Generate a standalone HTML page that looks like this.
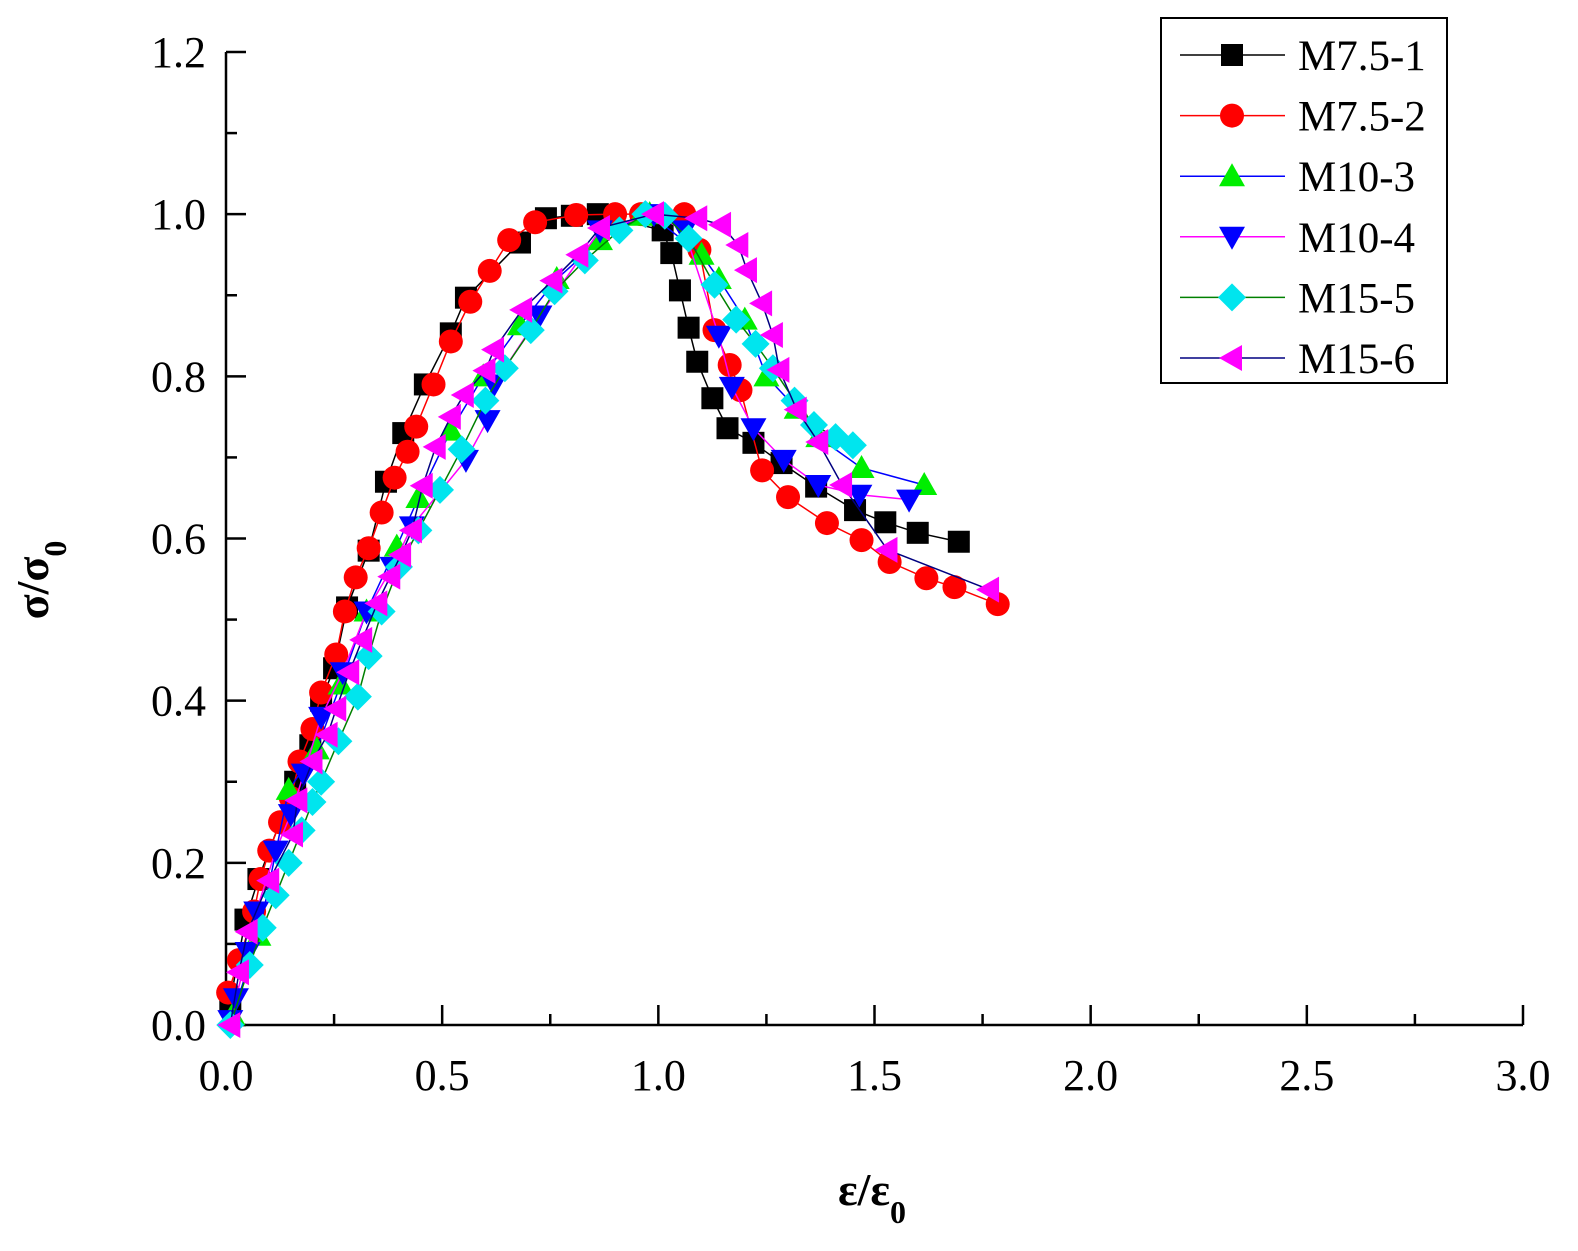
<!DOCTYPE html>
<html><head><meta charset="utf-8"><style>
body{margin:0;background:#fff}
svg{display:block;font-family:"Liberation Serif",serif}
</style></head><body>
<svg id="chart" width="1578" height="1251" viewBox="0 0 1578 1251">
<g id="axes"></g>
<g id="series"></g>
<g id="legend"></g>
</svg>
<script>
const xTicks=["0.0","0.5","1.0","1.5","2.0","2.5","3.0"];
const yTicks=["0.0","0.2","0.4","0.6","0.8","1.0","1.2"];
const seriesNames=["M7.5-1","M7.5-2","M10-3","M10-4","M15-5","M15-6"];
const s1x=[0.01,0.045,0.075,0.16,0.195,0.22,0.25,0.28,0.33,0.37,0.41,0.46,0.52,0.555,0.68,0.74,0.8,0.86,1.01,1.03,1.05,1.07,1.09,1.125,1.16,1.22,1.285,1.365,1.455,1.525,1.6,1.695];
const s1y=[0.03,0.13,0.18,0.3,0.345,0.4,0.44,0.515,0.585,0.67,0.73,0.79,0.853,0.897,0.965,0.995,0.998,1.0,0.98,0.952,0.906,0.86,0.818,0.773,0.736,0.718,0.693,0.664,0.635,0.62,0.607,0.596];
const s2x=[0.005,0.03,0.065,0.08,0.1,0.125,0.15,0.17,0.2,0.22,0.255,0.275,0.3,0.33,0.36,0.39,0.42,0.44,0.48,0.52,0.565,0.61,0.655,0.715,0.81,0.9,0.96,1.06,1.095,1.13,1.165,1.19,1.24,1.3,1.39,1.47,1.535,1.62,1.685,1.785];
const s2y=[0.04,0.08,0.14,0.18,0.215,0.25,0.28,0.325,0.365,0.41,0.457,0.51,0.552,0.588,0.632,0.675,0.707,0.738,0.79,0.843,0.892,0.93,0.968,0.99,0.999,1.0,1.0,1.0,0.956,0.857,0.814,0.783,0.684,0.651,0.619,0.598,0.571,0.551,0.54,0.519];
const s3x=[0.015,0.075,0.145,0.21,0.265,0.325,0.395,0.445,0.52,0.595,0.68,0.765,0.865,0.96,0.98,1.1,1.14,1.2,1.25,1.32,1.37,1.47,1.615];
const s3y=[0.012,0.11,0.29,0.34,0.42,0.51,0.59,0.65,0.733,0.8,0.863,0.92,0.968,0.998,1.0,0.95,0.92,0.87,0.8,0.76,0.725,0.687,0.666];
const s4x=[0.01,0.023,0.05,0.07,0.115,0.15,0.18,0.22,0.27,0.325,0.385,0.43,0.555,0.605,0.62,0.725,0.865,0.99,1.06,1.14,1.17,1.22,1.29,1.37,1.465,1.58];
const s4y=[0.006,0.033,0.09,0.14,0.215,0.26,0.31,0.38,0.435,0.51,0.565,0.615,0.697,0.746,0.79,0.875,0.98,1.0,0.98,0.85,0.787,0.736,0.697,0.666,0.654,0.648];
const s5x=[0.01,0.055,0.085,0.115,0.145,0.175,0.2,0.22,0.26,0.305,0.33,0.36,0.4,0.445,0.495,0.545,0.6,0.645,0.705,0.76,0.83,0.91,0.97,1.015,1.07,1.13,1.18,1.225,1.265,1.315,1.36,1.41,1.45];
const s5y=[0.0,0.074,0.12,0.16,0.2,0.24,0.275,0.3,0.35,0.405,0.455,0.51,0.565,0.61,0.66,0.71,0.77,0.81,0.857,0.905,0.943,0.98,1.0,0.998,0.97,0.913,0.87,0.84,0.81,0.77,0.74,0.725,0.715];
const s6x=[0.01,0.03,0.05,0.1,0.155,0.165,0.2,0.235,0.255,0.285,0.315,0.35,0.38,0.405,0.43,0.455,0.485,0.52,0.55,0.6,0.62,0.685,0.755,0.815,0.865,0.99,1.09,1.145,1.185,1.205,1.24,1.265,1.28,1.32,1.37,1.425,1.53,1.765];
const s6y=[0.0,0.065,0.115,0.178,0.235,0.277,0.325,0.358,0.39,0.435,0.475,0.52,0.553,0.58,0.61,0.665,0.713,0.75,0.777,0.807,0.833,0.882,0.918,0.95,0.983,1.0,0.995,0.987,0.962,0.931,0.89,0.851,0.808,0.759,0.719,0.666,0.586,0.537];

const X0=226,X1=1523,Y0=1025,Y1=52;
const sx=v=>X0+(v/3)*(X1-X0);
const sy=v=>Y0-(v/1.2)*(Y0-Y1);
const NS="http://www.w3.org/2000/svg";
function mk(tag,attrs,parent){const e=document.createElementNS(NS,tag);for(const k in attrs)e.setAttribute(k,attrs[k]);parent.appendChild(e);return e;}
const axes=document.getElementById('axes');
let a=mk('path',{d:`M${X0},${Y1} V${Y0} H${X1}`,stroke:'#000','stroke-width':2.5,fill:'none'},axes);


for(let i=0;i<=12;i++){const y=sy(i*0.1);const len=i%2===0?20:11;
 const t=mk('line',{x1:X0,x2:X0+len,y1:y,y2:y,stroke:'#000','stroke-width':2.5},axes);
 
 }
for(let i=0;i<=12;i++){const x=sx(i*0.25);const len=i%2===0?20:11;
 const t=mk('line',{x1:x,x2:x,y1:Y0,y2:Y0-len,stroke:'#000','stroke-width':2.5},axes);
 
 }
yTicks.forEach((l,i)=>{const t=mk('text',{x:206,y:sy(i*0.2)+15,'text-anchor':'end','font-size':44},axes);t.textContent=l;
 
 });
xTicks.forEach((l,i)=>{const t=mk('text',{x:sx(i*0.5),y:1090,'text-anchor':'middle','font-size':44},axes);t.textContent=l;
 
 });
const xt=mk('text',{x:872,y:1205,'text-anchor':'middle','font-size':46,'font-weight':'bold'},axes);
xt.innerHTML='ε/ε<tspan font-size="32" dy="18">0</tspan>';


const yt=mk('text',{x:0,y:0,'text-anchor':'middle','font-size':46,'font-weight':'bold',transform:'translate(48,580) rotate(-90)'},axes);
yt.innerHTML='σ/σ<tspan font-size="32" dy="18">0</tspan>';



const styles=[
 {line:'#000',fill:'#000',m:'square'},
 {line:'#ff0000',fill:'#ff0000',m:'circle'},
 {line:'#0000ff',fill:'#00ee00',m:'up'},
 {line:'#ff00ff',fill:'#0000ff',m:'down'},
 {line:'#008000',fill:'#00e5ee',m:'diamond'},
 {line:'#000080',fill:'#ff00ff',m:'left'}];
function marker(g,m,x,y,fill){const r=12;let e;
 if(m==='square')e=mk('rect',{x:x-r+1,y:y-r+1,width:2*r-2,height:2*r-2,fill},g);
 else if(m==='circle')e=mk('circle',{cx:x,cy:y,r:r,fill},g);
 else if(m==='up')e=mk('polygon',{points:`${x},${y-r-1} ${x+r+1},${y+r-2} ${x-r-1},${y+r-2}`,fill},g);
 else if(m==='down')e=mk('polygon',{points:`${x},${y+r+1} ${x+r+1},${y-r+2} ${x-r-1},${y-r+2}`,fill},g);
 else if(m==='diamond')e=mk('polygon',{points:`${x},${y-r-2} ${x+r+2},${y} ${x},${y+r+2} ${x-r-2},${y}`,fill},g);
 else e=mk('polygon',{points:`${x-r-1},${y} ${x+r-2},${y-r-1} ${x+r-2},${y+r+1}`,fill},g);
 return e;}
const data=[[s1x,s1y],[s2x,s2y],[s3x,s3y],[s4x,s4y],[s5x,s5y],[s6x,s6y]];
const sg=document.getElementById('series');
data.forEach(([xs,ys],k)=>{const st=styles[k];
 const g=mk('g',{},sg);
 
 
 const p=mk('polyline',{points:xs.map((v,i)=>sx(v)+','+sy(ys[i])).join(' '),fill:'none',stroke:st.line,'stroke-width':1.5},g);
 
 
 xs.forEach((v,i)=>{const m=marker(g,st.m,sx(v),sy(ys[i]),st.fill);
  
  });
});
const lg=document.getElementById('legend');
const box=mk('rect',{x:1161,y:18,width:286,height:365,fill:'#fff',stroke:'#000','stroke-width':2},lg);


seriesNames.forEach((n,k)=>{const y=55+k*60.6;const st=styles[k];
 const g=mk('g',{},lg);
 
 
 mk('line',{x1:1180,x2:1285,y1:y,y2:y,stroke:st.line,'stroke-width':1.5},g);
 marker(g,st.m,1232,y,st.fill);
 const t=mk('text',{x:1298,y:y+15,'font-size':43},g);t.textContent=n;});
</script>
</body></html>
